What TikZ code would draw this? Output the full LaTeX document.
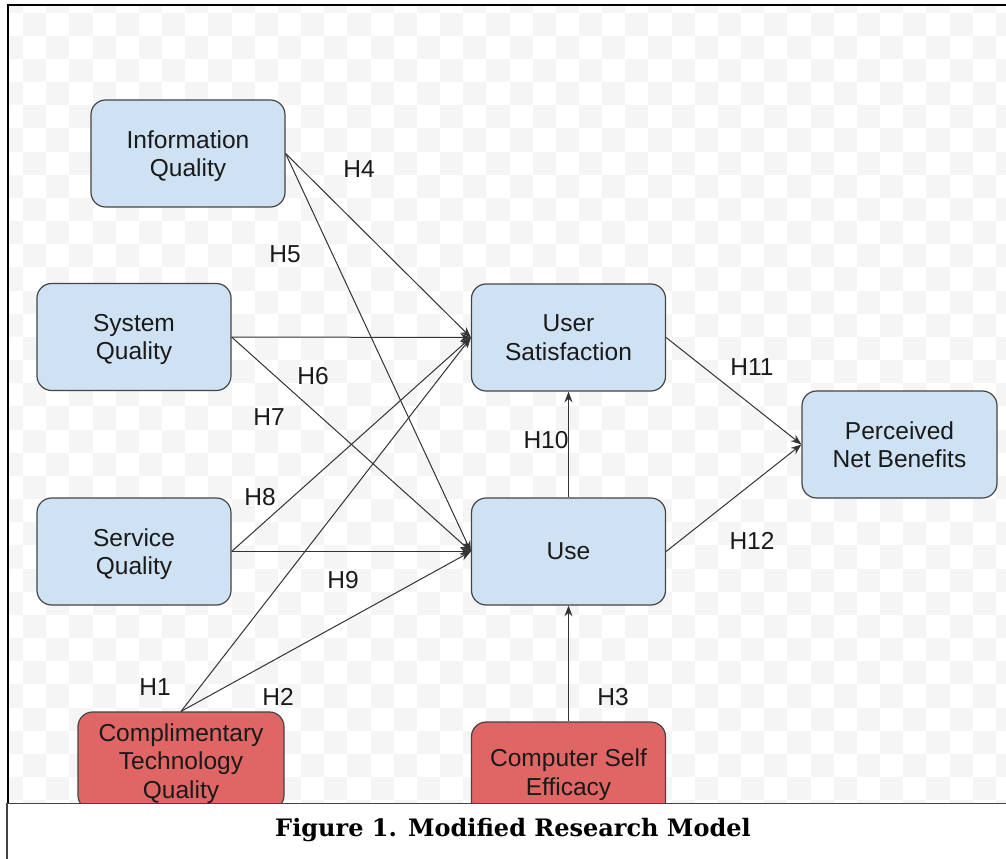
\documentclass[tikz,border=0pt]{standalone}
\usepackage{fontspec}
\setmainfont{Liberation Sans}
\newfontfamily\capfont{DejaVu Serif}
\usetikzlibrary{arrows.meta}
\definecolor{boxblue}{HTML}{CFE2F3}
\definecolor{boxred}{HTML}{E06666}
\definecolor{boxline}{HTML}{444444}
\definecolor{edgec}{HTML}{333333}
\definecolor{chk}{HTML}{F5F5F5}
\definecolor{txtc}{HTML}{1A1A1A}
\begin{document}
\begin{tikzpicture}[x=0.75pt,y=-0.75pt,
  box/.style={draw=boxline, line width=0.9pt, rounded corners=11pt, fill=boxblue,
    minimum width=145.5pt, minimum height=80.25pt, align=center, inner sep=0pt,
    text depth=0pt, text=txtc, font=\fontsize{18.4}{21.4}\selectfont},
  redbox/.style={box, fill=boxred},
  arr/.style={draw=edgec, line width=0.75pt, -{Stealth[length=8pt,width=6pt]}},
  lbl/.style={text=txtc, inner sep=0pt, font=\fontsize{18.4}{21.4}\selectfont}]
\useasboundingbox (0,0) rectangle (1006,859);
\fill[white] (0,0) rectangle (1006,859);
% checkered background
\begin{scope}
  \clip (8,5) rectangle (1006,803);
  \foreach \i in {0,...,43}{
    \foreach \j in {-1,...,34}{
      \pgfmathtruncatemacro\p{mod(\i+\j+100,2)}
      \ifnum\p=1
        \fill[chk] ({\i*23.16},{12.7+\j*23.16}) rectangle ({(\i+1)*23.16},{12.7+(\j+1)*23.16});
      \fi
    }
  }
\end{scope}
% frame
\draw[black, line width=1.5pt] (7.5,803) -- (7.5,5) -- (1006,5);
% nodes
\node[box] (iq) at (188,153.5) {Information\\Quality};
\node[box] (sys) at (134,337) {System\\Quality};
\node[box] (ser) at (134,551.5) {Service\\Quality};
\node[box] (us) at (568.5,337.5) {User\\Satisfaction};
\node[box] (use) at (568.5,551.5) {Use};
\node[box, minimum width=146.25pt] (pnb) at (899.5,444.5) {Perceived\\Net Benefits};
\node[redbox, minimum width=154.5pt, minimum height=73.5pt] (ctq) at (181,761) {Complimentary\\Technology\\Quality};
\node[redbox, minimum height=75pt] (cse) at (568.5,772) {Computer Self\\Efficacy};
% connectors
\draw[arr] (iq.east) -- (us.west);
\draw[arr] (iq.east) -- (use.west);
\draw[arr] (sys.east) -- (us.west);
\draw[arr] (sys.east) -- (use.west);
\draw[arr] (ser.east) -- (us.west);
\draw[arr] (ser.east) -- (use.west);
\draw[arr] (ctq.north) -- (us.west);
\draw[arr] (ctq.north) -- (use.west);
\draw[arr] (use.north) -- (us.south);
\draw[arr] (cse.north) -- (use.south);
\draw[arr] (us.east) -- (pnb.west);
\draw[arr] (use.east) -- (pnb.west);
% labels
\node[lbl] (h1) at (155,687) {H1};
\node[lbl] (h2) at (278,697) {H2};
\node[lbl] (h3) at (613,697) {H3};
\node[lbl] (h4) at (359,169) {H4};
\node[lbl] (h5) at (285,254) {H5};
\node[lbl] (h6) at (313,376) {H6};
\node[lbl] (h7) at (269,417) {H7};
\node[lbl] (h8) at (260,497) {H8};
\node[lbl] (h9) at (343,580) {H9};
\node[lbl] (h10) at (546,440) {H10};
\node[lbl] (h11) at (752,367) {H11};
\node[lbl] (h12) at (752,541) {H12};
% caption box
\fill[white] (7,803) rectangle (1006,859);
\draw[boxline, line width=1.3pt] (7,859) -- (7,803.5) -- (1006,803.5);
\node (cap) at (513,830) {\capfont\bfseries\fontsize{18}{21}\selectfont Figure 1. Modified Research Model};
\end{tikzpicture}
\end{document}
